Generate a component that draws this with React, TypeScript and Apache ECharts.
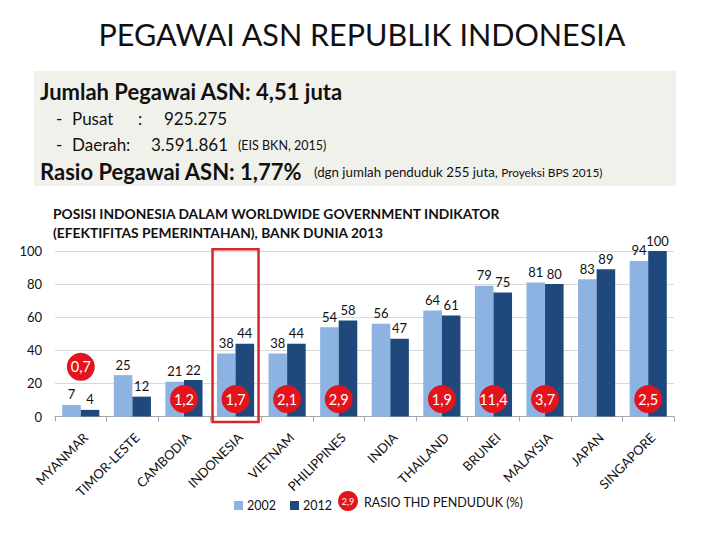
import React, { useEffect, useRef } from "react";
import * as echarts from "echarts";

const categories = [
  "MYANMAR", "TIMOR-LESTE", "CAMBODIA", "INDONESIA", "VIETNAM", "PHILIPPINES",
  "INDIA", "THAILAND", "BRUNEI", "MALAYSIA", "JAPAN", "SINGAPORE",
];
const values2002 = [7, 25, 21, 38, 38, 54, 56, 64, 79, 81, 83, 94];
const values2012 = [4, 12, 22, 44, 44, 58, 47, 61, 75, 80, 89, 100];
const ratios: (number | null)[] = [0.7, null, 1.2, 1.7, 2.1, 2.9, null, 1.9, 11.4, 3.7, null, 2.5];
const highlighted = "INDONESIA";
const yMin = 0;
const yMax = 100;
const yInterval = 20;

const FONT = "Lato, 'Open Sans', sans-serif";
const LIGHT = "#8DB3E2";
const DARK = "#1F497D";
const RED = "#E3141B";

const fmt = (v: number) => String(v).replace(".", ",");

export default function App() {
  const ref = useRef<HTMLDivElement>(null);
  useEffect(() => {
    if (!ref.current) return;
    const chart = echarts.init(ref.current, null, { renderer: "svg" });

    const badgeData = ratios
      .map((r, i) => {
        if (r == null) return null;
        const low = Math.max(values2002[i], values2012[i]) < 15;
        return { value: [categories[i], low ? 30 : 10.5, r] };
      })
      .filter((d) => d != null);

    const infoText = (x: number, y: number, text: string, size: number, bold = false) => ({
      type: "text",
      x,
      y,
      style: {
        text,
        fontFamily: FONT,
        fontSize: size,
        fontWeight: bold ? "bold" : "normal",
        fill: "#111",
        textVerticalAlign: "middle",
      },
    });

    const staticGraphics: any[] = [
      {
        type: "text",
        x: 362,
        y: 34,
        style: {
          text: "PEGAWAI ASN REPUBLIK INDONESIA",
          fontFamily: FONT,
          fontSize: 30.5,
          fill: "#111",
          textAlign: "center",
          textVerticalAlign: "middle",
        },
      },
      {
        type: "rect",
        shape: { x: 34, y: 71, width: 642, height: 115 },
        style: { fill: "#F1F1EC" },
        z: -1,
      },
      infoText(40, 91, "Jumlah Pegawai ASN: 4,51 juta", 22, true),
      infoText(56, 118, "-", 17),
      infoText(72, 118, "Pusat", 17),
      infoText(138, 118, ":", 17),
      infoText(164, 118, "925.275", 17),
      infoText(56, 144, "-", 17),
      infoText(72, 144, "Daerah:", 17),
      infoText(151, 144, "3.591.861", 17),
      infoText(238, 145, "(EIS BKN, 2015)", 12.5),
      infoText(40, 171, "Rasio Pegawai ASN: 1,77%", 22, true),
      {
        type: "text",
        x: 314,
        y: 172,
        style: {
          text: "{a|(dgn jumlah penduduk 255 juta, }{b|Proyeksi BPS 2015)}",
          fontFamily: FONT,
          textVerticalAlign: "middle",
          rich: {
            a: { fontFamily: FONT, fontSize: 13.3, fill: "#111" },
            b: { fontFamily: FONT, fontSize: 11.8, fill: "#111" },
          },
        },
      },
      infoText(53, 213, "POSISI INDONESIA DALAM WORLDWIDE GOVERNMENT INDIKATOR", 13.8, true),
      infoText(53, 232, "(EFEKTIFITAS PEMERINTAHAN), BANK DUNIA 2013", 13.8, true),
      {
        type: "circle",
        shape: { cx: 348, cy: 501, r: 10 },
        style: { fill: RED },
      },
      {
        type: "text",
        x: 348,
        y: 501,
        style: {
          text: "2,9",
          fontFamily: FONT,
          fontSize: 9,
          fill: "#fff",
          textAlign: "center",
          textVerticalAlign: "middle",
        },
      },
      infoText(364, 502, "RASIO THD PENDUDUK (%)", 12.5),
    ];

    const option: any = {
      animation: false,
      backgroundColor: "#FFFFFF",
      textStyle: { fontFamily: FONT },
      grid: { left: 55, right: 46, top: 251, bottom: 123.5, containLabel: false },
      legend: {
        data: ["2002", "2012"],
        left: 229,
        top: 494,
        icon: "rect",
        itemWidth: 9,
        itemHeight: 9,
        itemGap: 14,
        textStyle: { fontFamily: FONT, fontSize: 12.5, color: "#111", padding: [0, 0, 0, -1] },
      },
      xAxis: {
        type: "category",
        data: categories,
        axisLine: { lineStyle: { color: "#A6A6A6" } },
        axisTick: { show: true, interval: 0, length: 5, lineStyle: { color: "#A6A6A6" } },
        axisLabel: {
          interval: 0,
          rotate: 45,
          margin: 14,
          align: "right",
          verticalAlign: "top",
          fontFamily: FONT,
          fontSize: 13,
          color: "#111",
        },
      },
      yAxis: {
        type: "value",
        min: yMin,
        max: yMax,
        interval: yInterval,
        axisLine: { show: false },
        axisTick: { show: false },
        axisLabel: { margin: 13, fontFamily: FONT, fontSize: 13, color: "#111" },
        splitLine: { lineStyle: { color: "#D9D9D9" } },
      },
      series: [
        {
          name: "2002",
          type: "bar",
          data: values2002,
          itemStyle: { color: LIGHT },
          barGap: "0%",
          barCategoryGap: "28%",
          label: { show: true, position: "top", distance: 4, fontFamily: FONT, fontSize: 13, color: "#111" },
        },
        {
          name: "2012",
          type: "bar",
          data: values2012,
          itemStyle: { color: DARK },
          label: { show: true, position: "top", distance: 4, fontFamily: FONT, fontSize: 13, color: "#111" },
        },
        {
          name: "ratio",
          type: "scatter",
          data: badgeData,
          symbol: "circle",
          symbolSize: 28,
          itemStyle: { color: RED, opacity: 1 },
          z: 5,
          label: {
            show: true,
            position: "inside",
            formatter: (p: any) => fmt(p.value[2]),
            fontFamily: FONT,
            fontSize: 14.5,
            color: "#fff",
          },
        },
      ],
      graphic: staticGraphics,
    };

    chart.setOption(option);

    const cx = chart.convertToPixel({ xAxisIndex: 0 }, highlighted) as number;
    const yTop = chart.convertToPixel({ yAxisIndex: 0 }, 101) as number;
    const yBottom = (chart.convertToPixel({ yAxisIndex: 0 }, 0) as number) + 5.5;
    chart.setOption({
      graphic: [
        ...staticGraphics,
        {
          type: "rect",
          shape: { x: cx - 23, y: yTop, width: 46, height: yBottom - yTop },
          style: { fill: "none", stroke: "#D7262B", lineWidth: 2.5 },
          z: 10,
        },
      ],
    });

    return () => chart.dispose();
  }, []);

  return (
    <div
      ref={ref}
      style={{ position: "fixed", left: 0, top: 0, width: 720, height: 540 }}
    />
  );
}
